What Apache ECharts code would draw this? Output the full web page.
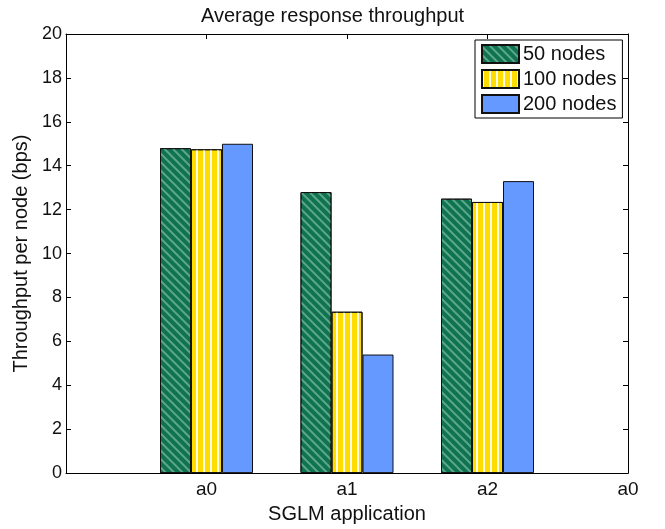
<!DOCTYPE html>
<html>
<head>
<meta charset="utf-8">
<script src="https://cdn.jsdelivr.net/npm/echarts@6/dist/echarts.min.js"></script>
<style>
  html, body { margin: 0; padding: 0; background: #fff; }
  #chart { width: 665px; height: 529px; }
</style>
</head>
<body>
<div id="chart"></div>
<script>
// x positions 0..4, bars sit on 1..3 (MATLAB-style axis, labels wrap round)
const tickLabels = ['', 'a0', 'a1', 'a2', 'a0']
const legendList = ['50 nodes', '100 nodes', '200 nodes']
const nodes50 = ['-', 14.8, 12.8, 12.5, '-']
const nodes100 = ['-', 14.75, 7.35, 12.35, '-']
const nodes200 = ['-', 15.0, 5.4, 13.3, '-']
const yTicks = [0, 20, 2]

const font = '"Liberation Sans", Arial, Helvetica, sans-serif'

const barBase = {
  type: 'bar',
  barWidth: 31,
  barGap: '0%',
  silent: true
}

const seriesList = [
  Object.assign({}, barBase, {
    name: legendList[0],
    data: nodes50,
    itemStyle: {
      color: '#0f7352',
      borderColor: '#111',
      borderWidth: 1,
      decal: {
        symbol: 'rect',
        symbolSize: 1,
        color: 'rgba(110,180,150,0.8)',
        dashArrayX: [[10, 0]],
        dashArrayY: [1.6, 3.4],
        rotation: Math.PI / 4
      }
    }
  }),
  Object.assign({}, barBase, {
    name: legendList[1],
    data: nodes100,
    itemStyle: {
      color: '#ffdd00',
      borderColor: '#111',
      borderWidth: 1,
      decal: {
        symbol: 'rect',
        symbolSize: 1,
        color: 'rgba(255,255,255,0.9)',
        dashArrayX: [[1.5, 4.5]],
        dashArrayY: [10, 0],
        rotation: 0
      }
    }
  }),
  Object.assign({}, barBase, {
    name: legendList[2],
    data: nodes200,
    itemStyle: {
      color: '#6699ff',
      borderColor: '#111',
      borderWidth: 1
    }
  })
]

const xBase = {
  type: 'category',
  boundaryGap: false,
  data: tickLabels,
  axisLine: { show: true, onZero: false, lineStyle: { color: '#000', width: 1 } },
  axisTick: { show: true, inside: true, length: 5, lineStyle: { color: '#000' } },
  splitLine: { show: false }
}
const yBase = {
  type: 'value',
  min: yTicks[0],
  max: yTicks[1],
  interval: yTicks[2],
  axisLine: { show: true, lineStyle: { color: '#000', width: 1 } },
  axisTick: { show: true, inside: true, length: 5, lineStyle: { color: '#000' } },
  splitLine: { show: false }
}

const chart = echarts.init(document.getElementById('chart'))
chart.setOption({
  animation: false,
  backgroundColor: '#fff',
  textStyle: { fontFamily: font },
  title: {
    text: 'Average response throughput',
    left: 'center',
    top: 1,
    textStyle: { fontFamily: font, fontSize: 20, fontWeight: 'normal', color: '#111' }
  },
  grid: { left: 66, right: 37, top: 34, bottom: 51 },
  legend: {
    data: legendList,
    orient: 'vertical',
    left: 475,
    top: 40,
    padding: [4, 6, 4, 6],
    itemGap: 5,
    itemWidth: 37,
    itemHeight: 18,
    backgroundColor: '#fff',
    borderColor: '#000',
    borderWidth: 1,
    borderRadius: 0,
    icon: 'rect',
    textStyle: { fontFamily: font, fontSize: 20, color: '#111', padding: [0, 0, 0, -1] }
  },
  xAxis: [
    Object.assign({}, xBase, {
      position: 'bottom',
      name: 'SGLM application',
      nameLocation: 'middle',
      nameGap: 26,
      nameTextStyle: { fontFamily: font, fontSize: 20, color: '#111' },
      axisLabel: { show: true, margin: 7, fontFamily: font, fontSize: 19, color: '#111' }
    }),
    Object.assign({}, xBase, {
      position: 'top',
      axisLabel: { show: false }
    })
  ],
  yAxis: [
    Object.assign({}, yBase, {
      position: 'left',
      name: 'Throughput per node (bps)',
      nameLocation: 'middle',
      nameGap: 34,
      nameTextStyle: { fontFamily: font, fontSize: 20, color: '#111' },
      axisLabel: { show: true, margin: 4, fontFamily: font, fontSize: 18, color: '#111' }
    }),
    Object.assign({}, yBase, {
      position: 'right',
      axisLabel: { show: false }
    })
  ],
  series: seriesList
})
</script>
</body>
</html>
